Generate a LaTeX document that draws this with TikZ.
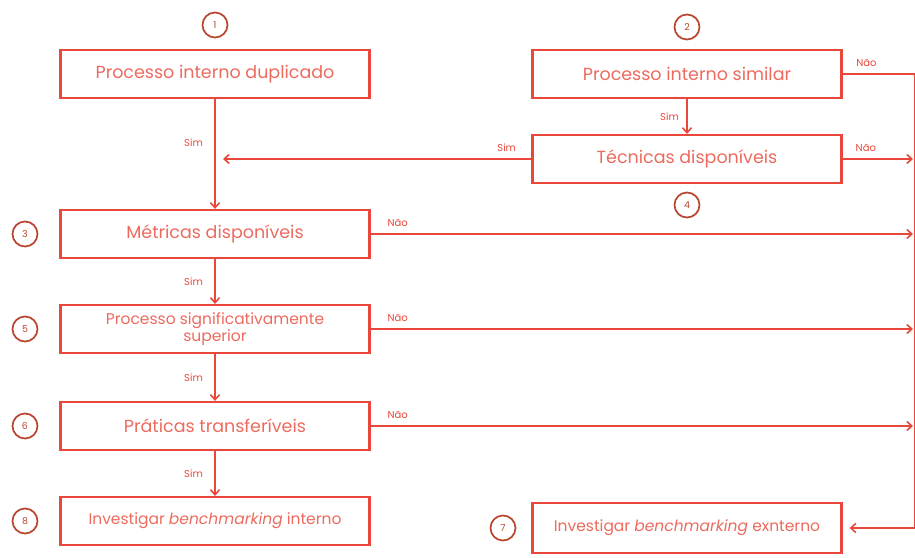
\documentclass[tikz,border=0pt]{standalone}
\usepackage{fontspec}
\setmainfont{Poppins}
\usetikzlibrary{arrows.meta}
\definecolor{coral}{HTML}{E8473A}
\definecolor{coraltext}{HTML}{EC6A5E}
\definecolor{coraldark}{HTML}{B8452F}
\tikzset{
etapa/.style={draw=coral, line width=2.2pt, minimum width=309pt, minimum height=48pt, inner sep=0pt, align=center, text=coraltext, font=\fontsize{17.5}{19}\selectfont},
num/.style={circle, draw=coraldark, line width=1.7pt, minimum size=25pt, inner sep=0pt, text=coraldark, font=\fontsize{9.5}{9.5}\selectfont},
seta/.style={draw=coral, line width=1.6pt, -{Straight Barb[length=5pt,width=9pt]}},
rot/.style={text=coral, font=\fontsize{10}{10}\selectfont}
}
\begin{document}
\begin{tikzpicture}[x=1pt,y=-1pt]
\useasboundingbox (0,0) rectangle (915,557);
\node[etapa] (dup) at (215,74){Processo interno duplicado};
\node[num] (c1) at (215,25){1};
\node[etapa] (simi) at (687,74){Processo interno similar};
\node[num] (c2) at (687,27){2};
\node[etapa] (tec) at (687,159){Técnicas disponíveis};
\node[num] (c4) at (687,205){4};
\node[etapa] (metr) at (215,234){Métricas disponíveis};
\node[num] (c3) at (25,234){3};
\node[etapa, font=\fontsize{15.5}{14}\selectfont] (sup) at (215,329){Processo significativamente\\superior};
\node[num] (c5) at (25,329){5};
\node[etapa] (prat) at (215,426){Práticas transferíveis};
\node[num] (c6) at (25,426){6};
\node[etapa, font=\fontsize{15.5}{17}\selectfont] (inte) at (215,521){Investigar \textit{benchmarking} interno};
\node[num] (c8) at (25,521){8};
\node[etapa, font=\fontsize{15.5}{17}\selectfont, minimum height=50pt] (exte) at (687,528){Investigar \textit{benchmarking} exnterno};
\node[num] (c7) at (503,528){7};
% saidas a direita
\coordinate (junc) at (223,159);
\coordinate (d1) at (915,74);
\coordinate (d2) at (915,528);
\coordinate (n4) at (913,159);
\coordinate (n3) at (913,234);
\coordinate (n5) at (913,329);
\coordinate (n6) at (913,426);
% sim
\draw[seta](dup) -- (metr) node[rot, pos=0.4, left=8pt]{Sim};
\draw[seta](simi) -- (tec) node[rot, midway, left=4pt]{Sim};
\draw[seta](tec.west) -- (junc) node[rot, pos=0.08, above=3pt]{Sim};
\draw[seta](metr) -- (sup) node[rot, midway, left=8pt]{Sim};
\draw[seta](sup) -- (prat) node[rot, midway, left=8pt]{Sim};
\draw[seta](prat) -- (inte) node[rot, midway, left=8pt]{Sim};
% nao
\draw[seta, shorten >=7pt](simi.east) -- (d1) node[rot, pos=0.33, above=3pt]{Não} -- (d2) -- (exte.east);
\draw[seta](tec.east) -- (n4) node[rot, pos=0.33, above=3pt]{Não};
\draw[seta](metr.east) -- (n3) node[rot, pos=0.05, above=3pt]{Não};
\draw[seta](sup.east) -- (n5) node[rot, pos=0.05, above=3pt]{Não};
\draw[seta](prat.east) -- (n6) node[rot, pos=0.05, above=3pt]{Não};
\end{tikzpicture}
\end{document}
